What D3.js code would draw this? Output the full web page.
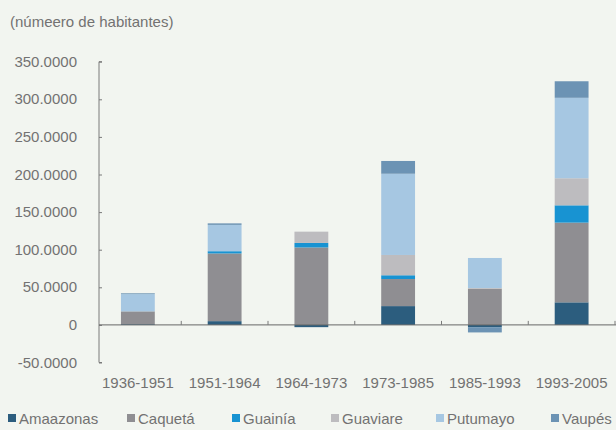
<!DOCTYPE html>
<html>
<head>
<meta charset="utf-8">
<script src="https://cdn.jsdelivr.net/npm/d3@7"></script>
<style>
  html, body { margin: 0; padding: 0; background: #f2f5f0; }
  svg { display: block; font-family: "Liberation Sans", Arial, sans-serif; }
</style>
</head>
<body>
<div id="chart"></div>
<script>
const width = 616;
const height = 430;

const periods = ["1936-1951", "1951-1964", "1964-1973", "1973-1985", "1985-1993", "1993-2005"];
const departments = ["Amaazonas", "Caquetá", "Guainía", "Guaviare", "Putumayo", "Vaupés"];

// population change per period
const amazonas = [1, 5, -3, 25, -3, 30];
const caqueta  = [17, 90, 103, 36, 48, 106];
const guainia  = [0, 3, 6, 5, 0, 23];
const guaviare = [0, 0, 15, 27, 1, 36];
const putumayo = [23, 35, 0, 108, 40, 107];
const vaupes   = [1, 2, 0, 17, -7, 22];

const yTicks = [-50, 0, 50, 100, 150, 200, 250, 300, 350];
const yTickLabels = ["-50.0000", "0", "50.0000", "100.0000", "150.0000", "200.0000", "250.0000", "300.0000", "350.0000"];

const colors = ["#2c5d7e", "#8f8e92", "#1893d2", "#bdbcbf", "#a6c7e2", "#6c93b4"];
const textColor = "#727272";
const axisColor = "#7a7a7a";

const seriesValues = [amazonas, caqueta, guainia, guaviare, putumayo, vaupes];
const table = periods.map((p, i) => {
    const row = {period: p};
    departments.forEach((d, j) => { row[d] = seriesValues[j][i]; });
    return row;
});

const stacked = d3.stack()
    .keys(departments)
    .offset(d3.stackOffsetDiverging)(table);

const x = d3.scaleBand()
    .domain(periods)
    .range([94.5, 615])
    .paddingInner(0.61)
    .paddingOuter(0.305);

const y = d3.scaleLinear()
    .domain([-50, 350])
    .range([362.5, 61.7]);

const color = d3.scaleOrdinal().domain(departments).range(colors);

const svg = d3.select("#chart")
    .append("svg")
    .attr("width", width)
    .attr("height", height);

svg.append("rect")
    .attr("width", width)
    .attr("height", height)
    .attr("fill", "#f2f5f0");

// unit note
svg.append("text")
    .attr("x", 10)
    .attr("y", 27)
    .attr("fill", textColor)
    .style("font-size", "15px")
    .text("(númeero de habitantes)");

// bars
svg.append("g")
    .selectAll("g")
    .data(stacked)
    .join("g")
    .attr("fill", d => color(d.key))
    .selectAll("rect")
    .data(d => d)
    .join("rect")
    .attr("x", d => x(d.data.period))
    .attr("width", x.bandwidth())
    .attr("y", d => y(Math.max(d[0], d[1])))
    .attr("height", d => Math.abs(y(d[0]) - y(d[1])));

// y axis, ticks pointing into the plot
const yAxis = d3.axisRight(y)
    .tickValues(yTicks)
    .tickSize(3)
    .tickFormat("");
const gy = svg.append("g")
    .attr("transform", "translate(99,0)")
    .call(yAxis);
gy.select(".domain").attr("stroke", axisColor).attr("d", `M3,${y(350)}H0V${y(-50)}H3`);
gy.selectAll(".tick line").attr("stroke", axisColor);

svg.append("g")
    .selectAll("text")
    .data(yTicks)
    .join("text")
    .attr("x", 77)
    .attr("y", d => y(d) + 5)
    .attr("text-anchor", "end")
    .attr("fill", textColor)
    .style("font-size", "15px")
    .text((d, i) => yTickLabels[i]);

// zero baseline with category ticks
svg.append("line")
    .attr("x1", 99)
    .attr("x2", width)
    .attr("y1", y(0))
    .attr("y2", y(0))
    .attr("stroke", "#666")
    .attr("stroke-width", 1);

svg.append("g")
    .selectAll("line")
    .data(periods)
    .join("line")
    .attr("x1", d => x(d) + x.bandwidth() / 2 + x.step() / 2)
    .attr("x2", d => x(d) + x.bandwidth() / 2 + x.step() / 2)
    .attr("y1", y(0))
    .attr("y2", y(0) - 4)
    .attr("stroke", axisColor);

// category labels
svg.append("g")
    .selectAll("text")
    .data(periods)
    .join("text")
    .attr("x", d => x(d) + x.bandwidth() / 2)
    .attr("y", 388)
    .attr("text-anchor", "middle")
    .attr("fill", textColor)
    .style("font-size", "15px")
    .text(d => d);

// legend
const legendX = [8, 127, 232, 331, 436, 551];
const legend = svg.append("g")
    .selectAll("g")
    .data(departments)
    .join("g")
    .attr("transform", (d, i) => `translate(${legendX[i]},0)`);

legend.append("rect")
    .attr("x", 0)
    .attr("y", 414)
    .attr("width", 8)
    .attr("height", 8)
    .attr("fill", d => color(d));

legend.append("text")
    .attr("x", 11)
    .attr("y", 424)
    .attr("fill", textColor)
    .style("font-size", "15px")
    .text(d => d);
</script>
</body>
</html>
